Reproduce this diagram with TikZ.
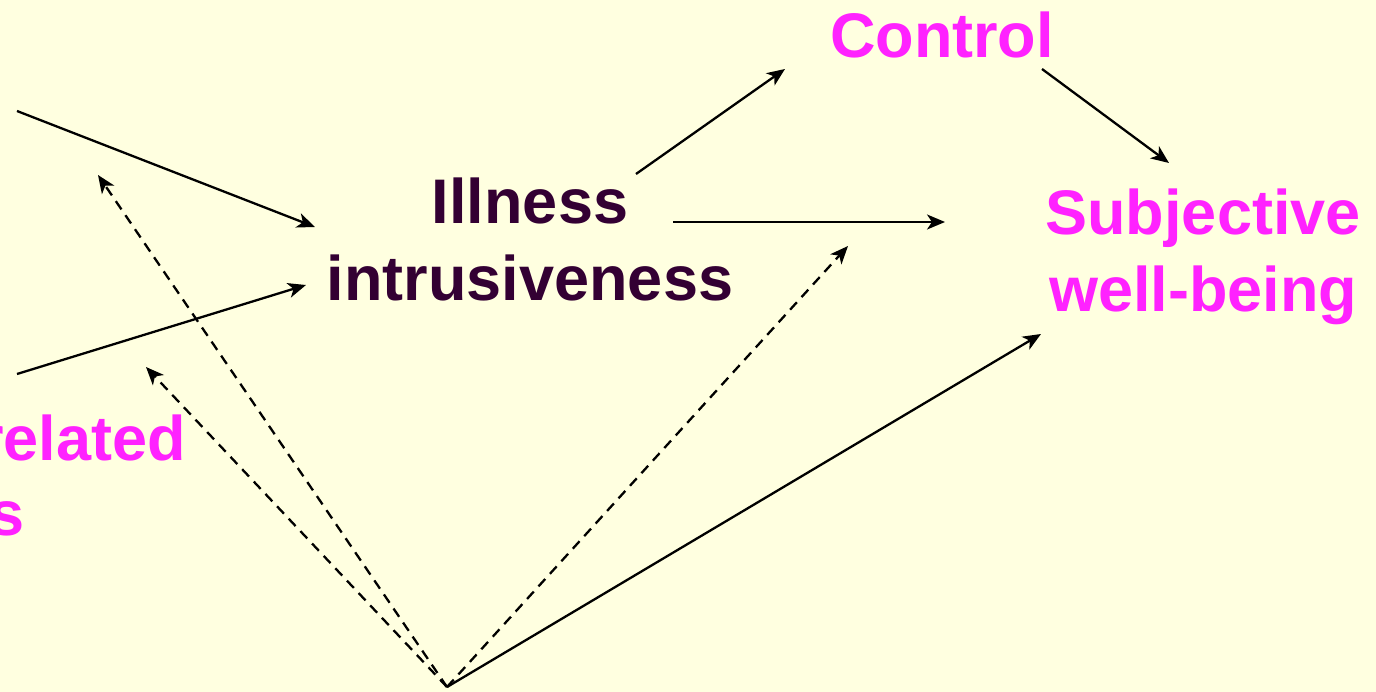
\documentclass[tikz,border=0pt]{standalone}
\usepackage{fontspec}
\setmainfont{Liberation Sans}
\usetikzlibrary{arrows.meta}
\definecolor{bgyellow}{RGB}{255,255,224}
\definecolor{pinktxt}{RGB}{255,34,255}
\definecolor{darktxt}{RGB}{51,0,51}
\tikzset{
  lbl/.style={font=\bfseries\fontsize{63}{77}\selectfont, align=center, inner sep=0pt},
  link/.style={line width=2.3pt, -{Stealth[length=18pt,width=15pt,inset=5pt]}},
  dlink/.style={link, dash pattern=on 10pt off 7pt}
}
\begin{document}
\begin{tikzpicture}[x=1pt,y=-1pt]

    \fill[bgyellow] (0,0) rectangle (1376,692);
    \useasboundingbox (0,0) rectangle (1376,692);
    \clip (0,0) rectangle (1376,692);

    % labels
    \node[lbl, text=darktxt, anchor=base] (ill) at (530,301) {Illness\\intrusiveness};
    \node[lbl, text=pinktxt, anchor=base] (ctrl) at (942,58) {Control};
    \node[lbl, text=pinktxt, anchor=base] (swb) at (1203,312) {Subjective\\well-being};
    \node[lbl, text=pinktxt, anchor=base east] (rel) at (186,460) {related};
    \node[lbl, text=pinktxt, anchor=base east] (rels) at (25,535) {s};

    % ends of the arrows
    \coordinate (src1) at (17,111);
    \coordinate (src2) at (17,374);
    \coordinate (bot) at (447,687);
    \coordinate (ill-in1) at (315,227);
    \coordinate (ill-in2) at (306,285);
    \coordinate (ill-out1) at (636,174);
    \coordinate (ill-out2) at (673,222);
    \coordinate (ctrl-in) at (785,69);
    \coordinate (ctrl-out) at (1042,69);
    \coordinate (swb-in1) at (1169,163);
    \coordinate (swb-in2) at (945,222);
    \coordinate (swb-in3) at (1041,334);
    \coordinate (mod1) at (98,175);
    \coordinate (mod2) at (146,367);
    \coordinate (mod3) at (848,246);

    \draw[link] (src1) -- (ill-in1);
    \draw[link] (src2) -- (ill-in2);
    \draw[link] (ill-out1) -- (ctrl-in);
    \draw[link] (ill-out2) -- (swb-in2);
    \draw[link] (ctrl-out) -- (swb-in1);
    \draw[link] (bot) -- (swb-in3);

    \draw[dlink] (bot) -- (mod1);
    \draw[dlink] (bot) -- (mod2);
    \draw[dlink] (bot) -- (mod3);

\end{tikzpicture}
\end{document}
